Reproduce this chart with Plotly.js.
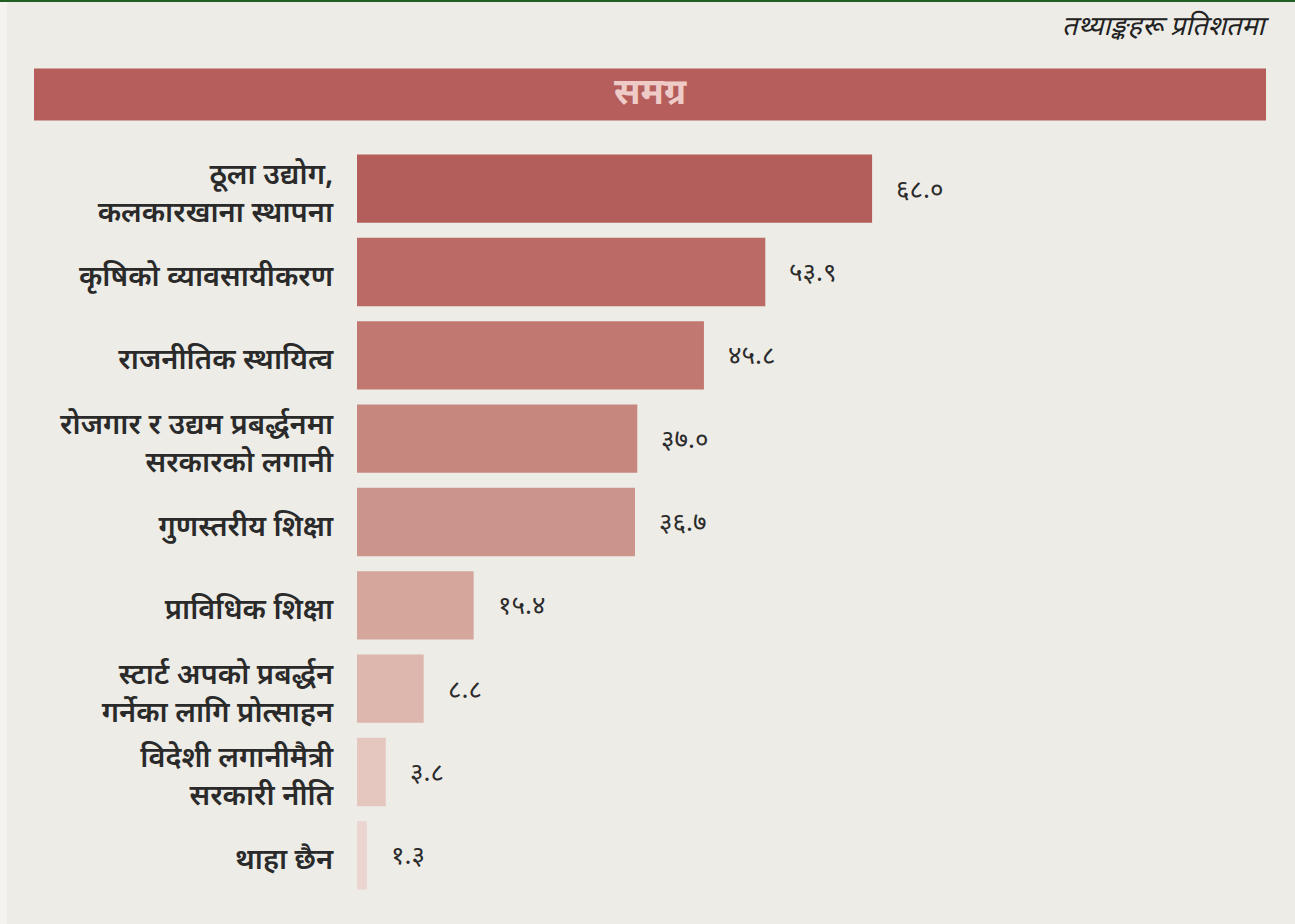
<!DOCTYPE html>
<html>
<head>
<meta charset="utf-8">
<script src="https://cdn.plot.ly/plotly-3.0.1.min.js"></script>
<style>
  html, body { margin: 0; padding: 0; background: #F4F3F0; }
  #wrap { position: absolute; left: 0; top: 0; width: 1295px; height: 924px; }
  #topline { position: absolute; left: 0; top: 0; width: 1295px; height: 2px; background: #1F5F24; z-index: 5; }
  #chart { position: absolute; left: 0; top: 0; width: 1295px; height: 924px; }
</style>
</head>
<body>
<div id="wrap">
  <div id="chart"></div>
  <div id="topline"></div>
</div>
<script>
const categories = [
  "ठूला उद्योग,<br>कलकारखाना स्थापना",
  "कृषिको व्यावसायीकरण",
  "राजनीतिक स्थायित्व",
  "रोजगार र उद्यम प्रबर्द्धनमा<br>सरकारको लगानी",
  "गुणस्तरीय शिक्षा",
  "प्राविधिक शिक्षा",
  "स्टार्ट अपको प्रबर्द्धन<br>गर्नेका लागि प्रोत्साहन",
  "विदेशी लगानीमैत्री<br>सरकारी नीति",
  "थाहा छैन"
];
const values = [68.0, 53.9, 45.8, 37.0, 36.7, 15.4, 8.8, 3.8, 1.3];
const barColors = ["#B45E5B", "#BB6B65", "#C07870", "#C6887E", "#CC958C", "#D4A69C", "#DDB6AE", "#E5C7C0", "#EAD5D0"];
const headerText = "समग्र";
const noteText = "तथ्याङ्कहरू प्रतिशतमा";

const devDigits = "०१२३४५६७८९";
function toDev(v) {
  return v.toFixed(1).replace(/[0-9]/g, d => devDigits[+d]);
}

const font = "'Noto Sans Devanagari', 'Noto Sans', sans-serif";

const trace = {
  type: "bar",
  orientation: "h",
  y: categories,
  x: values,
  marker: { color: barColors, line: { width: 0 } },
  hoverinfo: "skip"
};

const annotations = values.map((v, i) => ({
  xref: "x", yref: "y",
  x: v, y: categories[i],
  text: toDev(v),
  showarrow: false,
  xanchor: "left",
  xshift: 22, yshift: -3,
  font: { family: font, size: 26, color: "#2B2B2B" }
}));

annotations.push({
  xref: "paper", yref: "paper",
  x: (1272 - 357) / 909, y: (896.6 - 28) / 749.25,
  xanchor: "right", yanchor: "middle",
  text: noteText, showarrow: false,
  font: { family: font, size: 27, color: "#222", style: "italic" }
});
annotations.push({
  xref: "paper", yref: "paper",
  x: (650 - 357) / 909, y: (896.6 - 96) / 749.25,
  xanchor: "center", yanchor: "middle",
  text: "<b>" + headerText + "</b>", showarrow: false,
  font: { family: font, size: 36, color: "#EECBC6" }
});

const layout = {
  width: 1295, height: 924,
  margin: { l: 357, r: 29, t: 147.4, b: 27.4, pad: 0 },
  paper_bgcolor: "#EDECE7",
  plot_bgcolor: "#EDECE7",
  bargap: 0.18,
  showlegend: false,
  xaxis: {
    range: [0, 120], visible: false, fixedrange: true
  },
  yaxis: {
    autorange: "reversed",
    showgrid: false, zeroline: false, showline: false,
    ticks: "outside", ticklen: 17, tickcolor: "rgba(0,0,0,0)",
    ticklabelshift: -4,
    tickfont: { family: font, size: 29, color: "#2A2A2A", weight: 600 },
    fixedrange: true
  },
  shapes: [
    {
      type: "rect", xref: "paper", yref: "paper",
      x0: (34 - 357) / 909, x1: 1.0,
      y0: (896.6 - 121) / 749.25, y1: (896.6 - 69) / 749.25,
      fillcolor: "#B55E5B", line: { width: 0 }, layer: "below"
    },
    {
      type: "rect", xref: "paper", yref: "paper",
      x0: (0 - 357) / 909, x1: (7 - 357) / 909,
      y0: (896.6 - 924) / 749.25, y1: (896.6 - 0) / 749.25,
      fillcolor: "#F4F3F0", line: { width: 0 }, layer: "below"
    }
  ],
  annotations: annotations
};

Plotly.newPlot("chart", [trace], layout, { displayModeBar: false, staticPlot: true });
</script>
</body>
</html>
